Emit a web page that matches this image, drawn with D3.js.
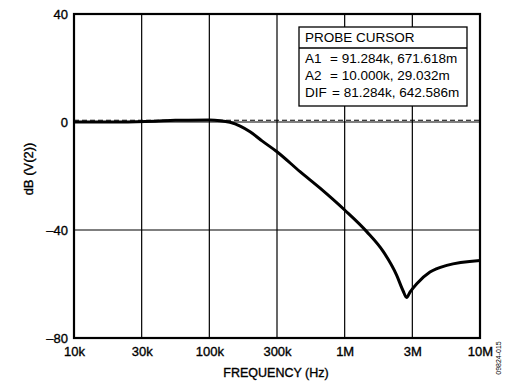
<!DOCTYPE html>
<html>
<head>
<meta charset="utf-8">
<script src="https://d3js.org/d3.v7.min.js"></script>
<style>
  body { margin: 0; background: #fff; }
  text { font-family: "Liberation Sans", Arial, sans-serif; fill: #000; }
  .heavy { stroke: #000; stroke-width: 0.35px; }
</style>
</head>
<body>
<div id="my_dataviz"></div>
<script>

  // frequency response
  var freq = [1e4, 2.2e4, 4e4, 5.6e4, 1e5, 1.2e5, 1.42e5, 1.69e5, 2e5, 2.45e5, 3.16e5,
              4.68e5, 6.58e5, 1e6, 1.455e6, 1.93e6, 2.42e6, 2.7e6, 2.87e6, 3.04e6,
              3.41e6, 4.27e6, 5.68e6, 1e7];
  var gain = [0, 0, 0.3, 0.65, 0.7, 0.5, -0.1, -1.5, -3.6, -7, -11,
              -18.4, -24.5, -32.6, -40.6, -48, -56.7, -62.5, -65, -63,
              -59.9, -55.6, -53.1, -51.3];

  var xTickLabels = ["10k", "30k", "100k", "300k", "1M", "3M", "10M"];
  var xTickValues = [1e4, 3.1623e4, 1e5, 3.1623e5, 1e6, 3.1623e6, 1e7];
  var yTickValues = [40, 0, -40, -80];

  var cursorLevel = 0.671618; // A1 cursor, dB
  var cursorTitle = "PROBE CURSOR";
  var cursorNames = ["A1", "A2", "DIF"];
  var cursorValues = ["= 91.284k, 671.618m", "= 10.000k, 29.032m", "= 81.284k, 642.586m"];

  var W = 526, H = 386;
  var margin = {top: 14, right: 46, bottom: 48, left: 74},
      width = W - margin.left - margin.right,
      height = H - margin.top - margin.bottom;

  var svg = d3.select("#my_dataviz")
    .append("svg")
      .attr("width", W)
      .attr("height", H);

  var g = svg.append("g")
      .attr("transform", "translate(" + margin.left + "," + margin.top + ")");

  var x = d3.scaleLog().domain([1e4, 1e7]).range([0, width]);
  var y = d3.scaleLinear().domain([-80, 40]).range([height, 0]);

  // grid
  g.selectAll(".vgrid")
    .data(xTickValues.slice(1, -1))
    .enter().append("line")
      .attr("x1", function(d) { return x(d); })
      .attr("x2", function(d) { return x(d); })
      .attr("y1", 0).attr("y2", height)
      .attr("stroke", "#000").attr("stroke-width", 1.2);

  g.selectAll(".hgrid")
    .data(yTickValues.slice(1, -1))
    .enter().append("line")
      .attr("x1", 0).attr("x2", width)
      .attr("y1", function(d) { return y(d); })
      .attr("y2", function(d) { return y(d); })
      .attr("stroke", "#000").attr("stroke-width", 1.2);

  // cursor dashed line
  g.append("line")
    .attr("x1", 0).attr("x2", width)
    .attr("y1", y(cursorLevel)).attr("y2", y(cursorLevel))
    .attr("stroke", "#000").attr("stroke-width", 1.1)
    .attr("stroke-dasharray", "5,3");

  // curve
  var data = freq.map(function(f, i) { return {f: f, v: gain[i]}; });
  g.append("path")
    .datum(data)
    .attr("fill", "none")
    .attr("stroke", "#000")
    .attr("stroke-width", 3)
    .attr("stroke-linejoin", "round")
    .attr("d", d3.line()
      .curve(d3.curveMonotoneX)
      .x(function(d) { return x(d.f); })
      .y(function(d) { return y(d.v); }));

  // frame
  g.append("rect")
    .attr("width", width).attr("height", height)
    .attr("fill", "none").attr("stroke", "#000").attr("stroke-width", 2.2);

  // axes (labels only)
  var xAxis = g.append("g")
    .attr("transform", "translate(0," + height + ")")
    .call(d3.axisBottom(x).tickValues(xTickValues)
      .tickFormat(function(d, i) { return xTickLabels[i]; }).tickSize(0).tickPadding(9));
  xAxis.select(".domain").remove();
  xAxis.selectAll("text").attr("class", "heavy").style("font-size", "13px").attr("fill", "#000")
    .style("font-family", "'Liberation Sans', Arial, sans-serif");

  var yAxis = g.append("g")
    .call(d3.axisLeft(y).tickValues(yTickValues)
      .tickFormat(function(d) { return d < 0 ? "\u2013" + Math.abs(d) : d; }).tickSize(0).tickPadding(6));
  yAxis.select(".domain").remove();
  yAxis.selectAll("text").attr("class", "heavy").style("font-size", "13px").attr("fill", "#000")
    .style("font-family", "'Liberation Sans', Arial, sans-serif");

  // titles
  svg.append("text")
    .attr("class", "heavy")
    .attr("x", 276).attr("y", 377)
    .attr("text-anchor", "middle")
    .style("font-size", "12.5px")
    .text("FREQUENCY (Hz)");

  svg.append("text")
    .attr("class", "heavy")
    .attr("transform", "translate(33,169) rotate(-90)")
    .attr("text-anchor", "middle")
    .style("font-size", "13px")
    .text("dB (V(2))");

  svg.append("text")
    .attr("transform", "translate(501,358) rotate(-90)")
    .attr("text-anchor", "middle")
    .style("font-size", "7px")
    .text("09824-015");

  // probe cursor box
  var box = svg.append("g").attr("transform", "translate(299,27)");
  box.append("rect")
    .attr("width", 168).attr("height", 79)
    .attr("fill", "#fff").attr("stroke", "#000").attr("stroke-width", 1.3);
  box.append("line")
    .attr("x1", 0).attr("x2", 168).attr("y1", 21).attr("y2", 21)
    .attr("stroke", "#000").attr("stroke-width", 1.3);
  box.append("text")
    .attr("x", 6).attr("y", 15)
    .style("font-size", "13.5px")
    .text(cursorTitle);
  cursorNames.forEach(function(n, i) {
    box.append("text")
      .attr("x", 6).attr("y", 36 + i * 17)
      .style("font-size", "13.5px")
      .text(n);
    box.append("text")
      .attr("x", i < 2 ? 31 : 33).attr("y", 36 + i * 17)
      .style("font-size", "13.5px")
      .text(cursorValues[i]);
  });

</script>
</body>
</html>
